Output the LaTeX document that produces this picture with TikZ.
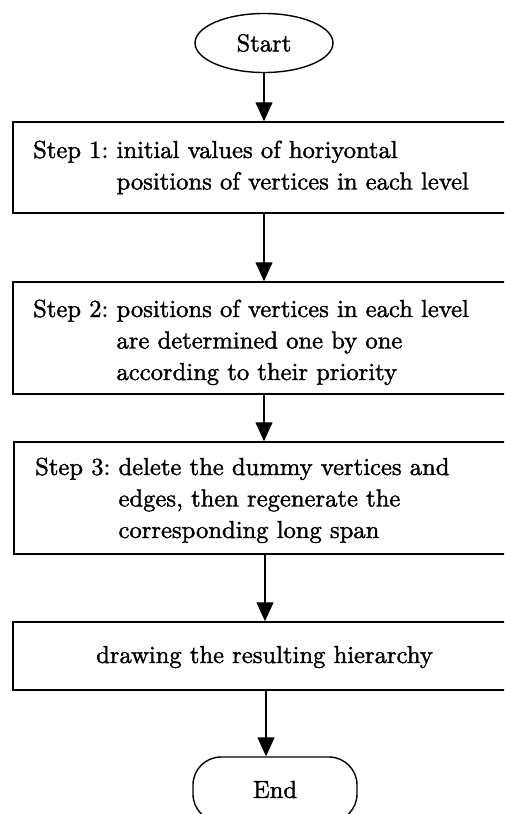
\documentclass[tikz,border=0pt]{standalone}
\usepackage{fontspec}
\setmainfont{lmroman10-regular.otf}[FakeBold=1.5]
\usetikzlibrary{arrows.meta,shapes.geometric}

\tikzset{
  flowtext/.style={font=\fontsize{24.6}{31.5}\selectfont, inner sep=0pt},
  stepbox/.style={draw, line width=1.5pt, rectangle, inner sep=0pt, minimum width=502pt},
  terminal/.style={draw, line width=1.4pt, inner sep=0pt, font=\fontsize{24.6}{31.5}\selectfont},
  flow/.style={line width=1.4pt, -{Triangle[width=17pt,length=19pt]}}
}

\begin{document}
\begin{tikzpicture}[x=1pt,y=-1pt]
  \useasboundingbox (0,0) rectangle (504,814);
  \fill[white] (0,0) rectangle (504,814);
  \clip (0,0) rectangle (504,814);

  % terminals
  \node[terminal, ellipse, minimum width=138pt, minimum height=59pt] (start) at (264,43) {Start};
  \node[terminal, rectangle, rounded corners=28pt, minimum width=164pt, minimum height=65pt] (end) at (275,789.5) {End};

  % process boxes
  \node[stepbox, minimum height=91pt]  (b1) at (264,167.5) {};
  \node[stepbox, minimum height=112pt] (b2) at (264,338) {};
  \node[stepbox, minimum height=112pt, minimum width=501pt] (b3) at (264.5,498) {};
  \node[stepbox, minimum height=68pt]  (b4) at (264,656) {};

  % box texts, continuation lines hang under the text after "Step n:"
  \node[flowtext, anchor=base west] (t1) at (33,158)
    {\begin{tabular}[t]{@{}l@{}l@{}}\mbox{Step 1:\ } & initial values of horiyontal\\
      & positions of vertices in each level\end{tabular}};
  \node[flowtext, anchor=base west] (t2) at (33,317)
    {\begin{tabular}[t]{@{}l@{}l@{}}\mbox{Step 2:\ } & positions of vertices in each level\\
      & are determined one by one\\ & according to their priority\end{tabular}};
  \node[flowtext, anchor=base west] (t3) at (35,475)
    {\begin{tabular}[t]{@{}l@{}l@{}}\mbox{Step 3:\ } & delete the dummy vertices and\\
      & edges, then regenerate the\\ & corresponding long span\end{tabular}};
  \node[flowtext, anchor=base] (t4) at (264.5,663) {drawing the resulting hierarchy};

  % connectors
  \draw[flow] (start.south) -- (b1.north);
  \draw[flow] (b1.south) -- (b2.north);
  \draw[flow] (b2.south) -- (b3.north -| b2.south);
  \draw[flow] ([xshift=0.5pt]b3.south) -- ([xshift=1pt]b4.north);
  \draw[flow] ([xshift=2pt]b4.south) -- ([xshift=-9pt]end.north);
\end{tikzpicture}
\end{document}
